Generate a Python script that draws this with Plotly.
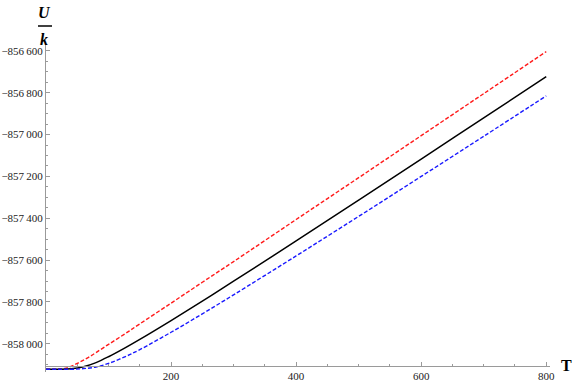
import plotly.graph_objects as go

# temperature samples (K)
T_red = [0, 20, 30, 40, 50, 60, 70, 80, 100, 125, 150, 200, 250, 300, 400, 500, 600, 700, 800]
u_red = [-858122, -858121, -858118, -858108, -858094, -858078, -858061, -858042, -858003,
         -857955, -857905, -857806, -857706, -857607, -857406, -857206, -857005, -856804, -856603]

T = [0, 20, 40, 60, 80, 100, 125, 150, 200, 250, 300, 400, 500, 600, 700, 800]
u_black = [-858122, -858122, -858120, -858110, -858090, -858062, -858022, -857979,
           -857889, -857796, -857701, -857508, -857313, -857117, -856920, -856723]
u_blue = [-858122, -858122, -858122, -858119, -858111, -858094, -858064, -858028,
          -857945, -857857, -857766, -857580, -857391, -857200, -857008, -856815]

y_ticks = [-858000, -857800, -857600, -857400, -857200, -857000, -856800, -856600]
y_labels = ["\u2212858\u2009000", "\u2212857\u2009800", "\u2212857\u2009600", "\u2212857\u2009400",
            "\u2212857\u2009200", "\u2212857\u2009000", "\u2212856\u2009800", "\u2212856\u2009600"]
x_ticks = [200, 400, 600, 800]
x_labels = ["200", "400", "600", "800"]

font = "Liberation Serif"
axis_col = "#9a9a9a"

fig = go.Figure()
fig.add_trace(go.Scatter(x=T_red, y=u_red, mode="lines", line_shape="spline",
                         line=dict(color="#ff1a1a", width=1.4, dash="4px,2px")))
fig.add_trace(go.Scatter(x=T, y=u_black, mode="lines", line_shape="spline",
                         line=dict(color="black", width=1.5)))
fig.add_trace(go.Scatter(x=T, y=u_blue, mode="lines", line_shape="spline",
                         line=dict(color="#1a1aff", width=1.4, dash="4px,2px")))

fig.update_layout(
    width=572, height=382,
    margin=dict(l=46, r=22, t=43, b=10),
    paper_bgcolor="white", plot_bgcolor="white",
    showlegend=False,
    font=dict(family=font, size=11, color="#222"),
    xaxis=dict(
        range=[0, 806], showgrid=False, zeroline=False, automargin=False,
        showline=True, linecolor=axis_col, linewidth=1,
        anchor="free", position=0.0197,
        tickvals=x_ticks, ticktext=x_labels,
        ticks="inside", ticklen=4, tickcolor=axis_col,
        minor=dict(dtick=50, tick0=0, ticks="inside", ticklen=2, tickcolor=axis_col),
    ),
    yaxis=dict(
        range=[-858135, -856562], showgrid=False, zeroline=False, automargin=False,
        showline=True, linecolor=axis_col, linewidth=1,
        tickvals=y_ticks, ticktext=y_labels,
        ticks="inside", ticklen=4, tickcolor=axis_col,
        minor=dict(dtick=50, tick0=-858000, ticks="inside", ticklen=2, tickcolor=axis_col),
    ),
)

# axis labels: U over k fraction and T
fig.add_annotation(xref="paper", yref="paper", x=0, y=1.0, xshift=-2, yshift=31,
                   xanchor="center", yanchor="middle",
                   text="<b><i>U</i></b>", showarrow=False,
                   font=dict(family=font, size=16, color="black"))
fig.add_annotation(xref="paper", yref="paper", x=0, y=1.0, xshift=-2, yshift=4,
                   xanchor="center", yanchor="middle",
                   text="<b><i>k</i></b>", showarrow=False,
                   font=dict(family=font, size=16, color="black"))
fig.add_shape(type="line", xref="paper", yref="paper", xsizemode="pixel", ysizemode="pixel",
              xanchor=0, yanchor=1.0, x0=-8, x1=6, y0=17, y1=17,
              line=dict(color="black", width=1.5))
fig.add_annotation(xref="paper", yref="paper", x=1.0, y=0.0197, xshift=16,
                   xanchor="center", yanchor="middle",
                   text="<b>T</b>", showarrow=False,
                   font=dict(family=font, size=16, color="black"))

fig.write_html("out.html", config={"displayModeBar": False},
               post_script="document.body.style.margin='0';")
